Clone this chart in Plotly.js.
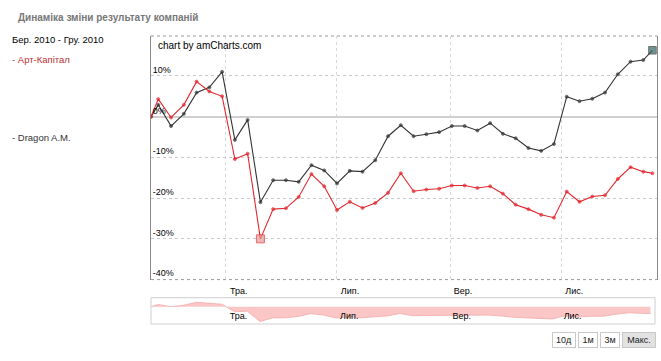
<!DOCTYPE html>
<html>
<head>
<meta charset="utf-8">
<script src="https://cdn.plot.ly/plotly-3.0.1.min.js"></script>
<style>
html,body{margin:0;padding:0;background:#fff;}
#chart{width:661px;height:361px;}
</style>
</head>
<body>
<div id="chart"></div>
<script>
// ---- data ----
const dates = [
  '2010-03-21','2010-03-25','2010-04-01','2010-04-08','2010-04-15','2010-04-22','2010-04-29',
  '2010-05-06','2010-05-13','2010-05-20','2010-05-27','2010-06-03','2010-06-10','2010-06-17',
  '2010-06-24','2010-07-01','2010-07-08','2010-07-15','2010-07-22','2010-07-29','2010-08-05',
  '2010-08-12','2010-08-19','2010-08-26','2010-09-02','2010-09-09','2010-09-16','2010-09-23',
  '2010-09-30','2010-10-07','2010-10-14','2010-10-21','2010-10-28','2010-11-04','2010-11-11',
  '2010-11-18','2010-11-25','2010-12-02','2010-12-09','2010-12-16','2010-12-21'
];
const artKapital = [
  0, 4.3, -0.2, 2.9, 8.6, 6.2, 5.0, -10.4, -9.1, -30.0, -22.7, -22.5, -19.7, -14.1,
  -17.1, -22.9, -20.9, -22.4, -21.2, -18.7, -13.9, -18.3, -17.9, -17.7, -16.9, -16.9, -17.5,
  -17.1, -18.9, -21.6, -22.7, -24.1, -24.8, -18.4, -20.9, -19.6, -19.3, -15.3, -12.4, -13.5, -13.9
];
const dragonAM = [
  0, 2.9, -2.3, 0.7, 5.9, 7.2, 11.0, -5.7, -0.8, -21.0, -15.6, -15.6, -16.0, -11.9,
  -13.2, -16.4, -13.3, -13.5, -10.7, -4.8, -2.1, -4.8, -4.3, -3.8, -2.3, -2.3, -3.4,
  -1.6, -4.2, -5.3, -7.7, -8.4, -6.7, 4.9, 3.8, 4.4, 5.9, 10.4, 13.5, 13.9, 16.3
];
const seriesNames = ['Арт-Капітал', 'Dragon A.M.'];
const monthTicks = ['2010-05-01','2010-07-01','2010-09-01','2010-11-01'];
const monthLabels = ['Тра.','Лип.','Вер.','Лис.'];
const yTicks = [-40,-30,-20,-10,0,10];
const yTickLabels = ['-40%','-30%','-20%','-10%','0%','10%'];
const periodLabel = 'Бер. 2010 - Гру. 2010';
const chartTitle = 'Динаміка зміни результату компаній';
const credit = 'chart by amCharts.com';
const buttonLabels = ['10д','1м','3м','Макс.'];

// ---- geometry helpers ----
const W = 661, H = 361;
const M = {l:151, r:4, t:36, b:37};
const PW = W - M.l - M.r, PH = H - M.t - M.b;
const px = x => (x - M.l) / PW;
const py = y => (H - M.b - y) / PH;

const FONT = 'Liberation Sans, Arial, sans-serif';
const RED = '#e3262d', DARK = '#333333';

// highlight markers (last point of Dragon, minimum of Art-Kapital)
const minIdx = artKapital.indexOf(Math.min(...artKapital));
const lastIdx = dragonAM.length - 1;
const redSizes = artKapital.map((v,i)=> i===minIdx ? 8 : 3);
const redSym = artKapital.map((v,i)=> i===minIdx ? 'square' : 'circle');
const redCol = artKapital.map((v,i)=> i===minIdx ? '#e29b9b' : RED);
const darkSizes = dragonAM.map((v,i)=> i===lastIdx ? 7.5 : 3);
const darkSym = dragonAM.map((v,i)=> i===lastIdx ? 'square' : 'circle');
const darkCol = dragonAM.map((v,i)=> i===lastIdx ? '#2d6662' : DARK);

const traces = [
  {x: dates, y: dragonAM, type:'scatter', mode:'lines+markers', name: seriesNames[1],
   line:{color:DARK, width:1.1}, marker:{size:darkSizes, symbol:darkSym, color:darkCol},
   xaxis:'x', yaxis:'y', hoverinfo:'skip'},
  {x: dates, y: artKapital, type:'scatter', mode:'lines+markers', name: seriesNames[0],
   line:{color:RED, width:1.1}, marker:{size:redSizes, symbol:redSym, color:redCol},
   xaxis:'x', yaxis:'y', hoverinfo:'skip'},
  {x: dates, y: artKapital, type:'scatter', mode:'lines', fill:'tozeroy',
   fillcolor:'#fbc6c6', line:{color:'#f2a9a9', width:0.8},
   xaxis:'x2', yaxis:'y2', hoverinfo:'skip'}
];

const xRange = ['2010-03-21', '2010-12-23 12:00'];

const annotations = [
  {text: credit, xref:'paper', yref:'paper', x: px(156), y: py(45), xanchor:'left', yanchor:'middle',
   showarrow:false, font:{family:FONT, size:10, color:'#000'}},
  {text: periodLabel, xref:'paper', yref:'paper', x: px(10), y: py(40), xanchor:'left', yanchor:'middle',
   showarrow:false, font:{family:FONT, size:9.5, color:'#000'}},
  {text: '- ' + seriesNames[0], xref:'paper', yref:'paper', x: px(10), y: py(59), xanchor:'left', yanchor:'middle',
   showarrow:false, font:{family:FONT, size:9.5, color:'#b83030'}},
  {text: '- ' + seriesNames[1], xref:'paper', yref:'paper', x: px(10), y: py(137), xanchor:'left', yanchor:'middle',
   showarrow:false, font:{family:FONT, size:9.5, color:'#333'}}
];
const btnBoxes = [[552,576],[578,598],[600,620],[622,656]];
buttonLabels.forEach((t,i)=>{
  const [a,b] = btnBoxes[i];
  annotations.push({text:t, xref:'paper', yref:'paper', x: px((a+b)/2), y: py(340),
    xanchor:'center', yanchor:'middle', showarrow:false,
    width: b-a-4, height: 12, borderpad:1, borderwidth:1, bordercolor:'#c8c8c8',
    bgcolor: i===3 ? '#e2e2e2' : '#ffffff',
    font:{family:FONT, size:9, color:'#222'}});
});

const layout = {
  width: W, height: H,
  margin: M,
  paper_bgcolor:'#fff', plot_bgcolor:'#fff',
  showlegend:false,
  title:{text:'<b>'+chartTitle+'</b>', xref:'container', yref:'container',
         x: 18/W, y: 1 - 17/H, xanchor:'left', yanchor:'middle',
         font:{family:FONT, size:10, color:'#777'}},
  xaxis:{type:'date', range:xRange, domain:[0,1], anchor:'y',
         tickvals: monthTicks, ticktext: monthLabels, ticks:'',
         showgrid:true, gridcolor:'#d8d8d8', griddash:'dot', gridwidth:1,
         ticklabelshift: 13, ticklabelstandoff: 4,
         tickfont:{family:FONT, size:9, color:'#000'},
         showline:false, zeroline:false, fixedrange:true},
  yaxis:{range:[-40, 19.8], domain:[py(279.6), 1], anchor:'x',
         tickvals: yTicks, ticktext: yTickLabels, ticks:'',
         ticklabelposition:'inside top',
         tickfont:{family:FONT, size:9, color:'#000'},
         showgrid:true, gridcolor:'#c8c8c8', griddash:'dot', gridwidth:1,
         zeroline:true, zerolinecolor:'#d0d0d0', zerolinewidth:2,
         showline:true, mirror:true, linecolor:'#8a8a8a', linewidth:1, fixedrange:true},
  xaxis2:{type:'date', range:xRange, domain:[0, px(655)], anchor:'y2',
          tickvals: monthTicks, ticktext: monthLabels, ticks:'',
          ticklabelposition:'inside', ticklabelshift: 13,
          tickfont:{family:FONT, size:9, color:'#000'},
          showgrid:true, gridcolor:'rgba(255,255,255,0.8)', gridwidth:1,
          showline:false, zeroline:false, fixedrange:true},
  yaxis2:{range:[-35, 18], domain:[0, py(297.7)], anchor:'x2',
          showticklabels:false, ticks:'', showgrid:false,
          zeroline:false, showline:false, fixedrange:true},
  shapes:[
    {type:'line', xref:'paper', yref:'y domain', x0:0, x1:1, y0:1, y1:1,
     line:{color:'#9a9a9a', width:1, dash:'dot'}},
    {type:'line', xref:'paper', yref:'y domain', x0:0, x1:1, y0:0, y1:0,
     line:{color:'#9a9a9a', width:1, dash:'dot'}},
    {type:'rect', xref:'x2 domain', yref:'y2 domain', x0:0, x1:1, y0:0, y1:1,
     line:{color:'#cfcfcf', width:1}}
  ],
  annotations: annotations
};

Plotly.newPlot('chart', traces, layout, {displayModeBar:false, staticPlot:true});
</script>
</body>
</html>
